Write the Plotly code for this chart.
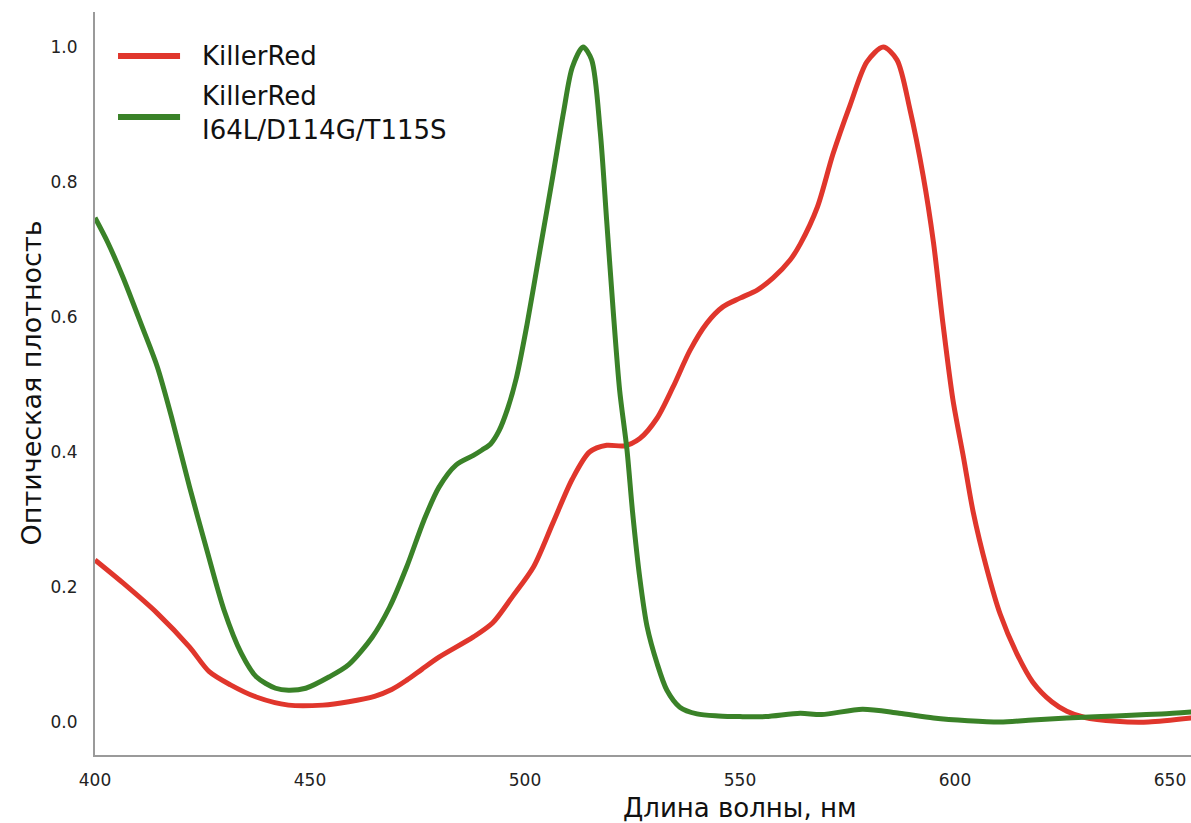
import plotly.graph_objects as go

# KillerRed I64L/D114G/T115S (green)
green_wl = [400, 403, 406.5, 411, 414.5, 418, 422, 426, 430, 434, 437.5, 442, 445, 449,
            454.5, 459, 464.5, 468.5, 472.5, 476.5, 480, 484, 488, 490, 492, 494, 496,
            498, 500.5, 503.5, 506.5, 509, 511, 513.5, 515.5, 517.5, 519, 520.5, 522,
            523.7, 525, 526.7, 528.4, 530.7, 533, 536, 540, 545, 550, 556, 564, 569,
            578.5, 587, 595, 603, 610.5, 618, 626, 634, 641, 648, 655]
green_od = [0.747, 0.71, 0.659, 0.585, 0.526, 0.447, 0.348, 0.255, 0.166, 0.102, 0.067,
            0.050, 0.047, 0.050, 0.067, 0.085, 0.126, 0.170, 0.230, 0.299, 0.348, 0.381,
            0.395, 0.403, 0.412, 0.432, 0.465, 0.51, 0.59, 0.70, 0.81, 0.905, 0.97, 1.0,
            0.981, 0.874, 0.742, 0.610, 0.492, 0.404, 0.312, 0.213, 0.141, 0.087, 0.047,
            0.022, 0.012, 0.009, 0.008, 0.008, 0.013, 0.011, 0.019, 0.013, 0.006, 0.002,
            0.0, 0.003, 0.006, 0.008, 0.010, 0.012, 0.015]

# KillerRed (red)
red_wl = [400, 406.5, 414.5, 422, 426.5, 431.5, 437.5, 445, 453, 459, 465, 469, 472.5,
          476, 480, 488, 492.5, 497, 502, 506.5, 511, 515, 519, 523, 526.7, 530.7, 534.4,
          538.4, 542.3, 546, 550, 554, 557.7, 561.6, 564, 568, 571.6, 575.6, 579.5,
          583.3, 586.5, 589.5, 592.6, 595, 597.2, 599.5, 602, 604.2, 607.4, 610.5,
          614.4, 618.1, 622.5, 626, 630, 637.5, 645, 655]
red_od = [0.240, 0.206, 0.161, 0.111, 0.075, 0.055, 0.037, 0.025, 0.025, 0.030, 0.038,
          0.048, 0.062, 0.078, 0.096, 0.126, 0.147, 0.185, 0.230, 0.295, 0.360, 0.400,
          0.410, 0.409, 0.420, 0.450, 0.496, 0.551, 0.591, 0.615, 0.628, 0.640, 0.658,
          0.684, 0.708, 0.763, 0.841, 0.914, 0.978, 1.0, 0.981, 0.908, 0.809, 0.710,
          0.590, 0.478, 0.391, 0.312, 0.227, 0.160, 0.101, 0.059, 0.030, 0.016, 0.007,
          0.001, 0.0, 0.006]

x_ticks = [400, 450, 500, 550, 600, 650]
y_ticks = [0.0, 0.2, 0.4, 0.6, 0.8, 1.0]
y_tick_text = ["0.0", "0.2", "0.4", "0.6", "0.8", "1.0"]

names = ["KillerRed", "KillerRed<br>I64L/D114G/T115S"]
RED = "#e0362c"
GREEN = "#3a8228"
FONT = "DejaVu Sans"

fig = go.Figure()
fig.add_trace(go.Scatter(x=red_wl, y=red_od, mode="lines", name=names[0],
                         line=dict(color=RED, width=5, shape="spline", smoothing=0.8),
                         showlegend=False))
fig.add_trace(go.Scatter(x=green_wl, y=green_od, mode="lines", name=names[1],
                         line=dict(color=GREEN, width=5, shape="spline", smoothing=0.8),
                         showlegend=False))

# legend (manual, to match the long swatches)
legend_items = [(RED, 0.9408, 0.9408), (GREEN, 0.8587, 0.8634)]
for (col, ysw, ytxt), name in zip(legend_items, names):
    fig.add_shape(type="line", xref="paper", yref="paper", x0=0.021, x1=0.0776,
                  y0=ysw, y1=ysw, line=dict(color=col, width=6))
    fig.add_annotation(xref="paper", yref="paper", x=0.0958, y=ytxt, text=name,
                       showarrow=False, xanchor="left", yanchor="middle", align="left",
                       font=dict(family=FONT, size=26, color="#111111"))

# axis titles
fig.add_annotation(xref="x", yref="paper", x=550, y=0, yshift=-53, text="Длина волны, нм",
                   showarrow=False, xanchor="center", yanchor="middle",
                   font=dict(family=FONT, size=26, color="#111111"))
fig.add_annotation(xref="paper", yref="paper", x=0, y=0.5, xshift=-64,
                   text="Оптическая плотность", textangle=-90, showarrow=False,
                   xanchor="center", yanchor="middle",
                   font=dict(family=FONT, size=27, color="#111111"))

fig.update_layout(
    width=1191, height=823,
    margin=dict(l=95, r=0, t=12, b=68),
    paper_bgcolor="white", plot_bgcolor="white",
    font=dict(family=FONT, size=17, color="#222222"),
    xaxis=dict(range=[400, 654.88], tickvals=x_ticks, showgrid=False, zeroline=False,
               showline=True, linecolor="#9a9a9a", linewidth=2, ticks="outside",
               ticklen=9, tickcolor="rgba(0,0,0,0)", tickfont=dict(size=17)),
    yaxis=dict(range=[-0.0489, 1.0519], tickvals=y_ticks, ticktext=y_tick_text,
               showgrid=False, zeroline=False, showline=True, linecolor="#9a9a9a",
               linewidth=2, ticks="outside", ticklen=12, tickcolor="rgba(0,0,0,0)",
               tickfont=dict(size=17)),
)

fig.write_html("out.html")
